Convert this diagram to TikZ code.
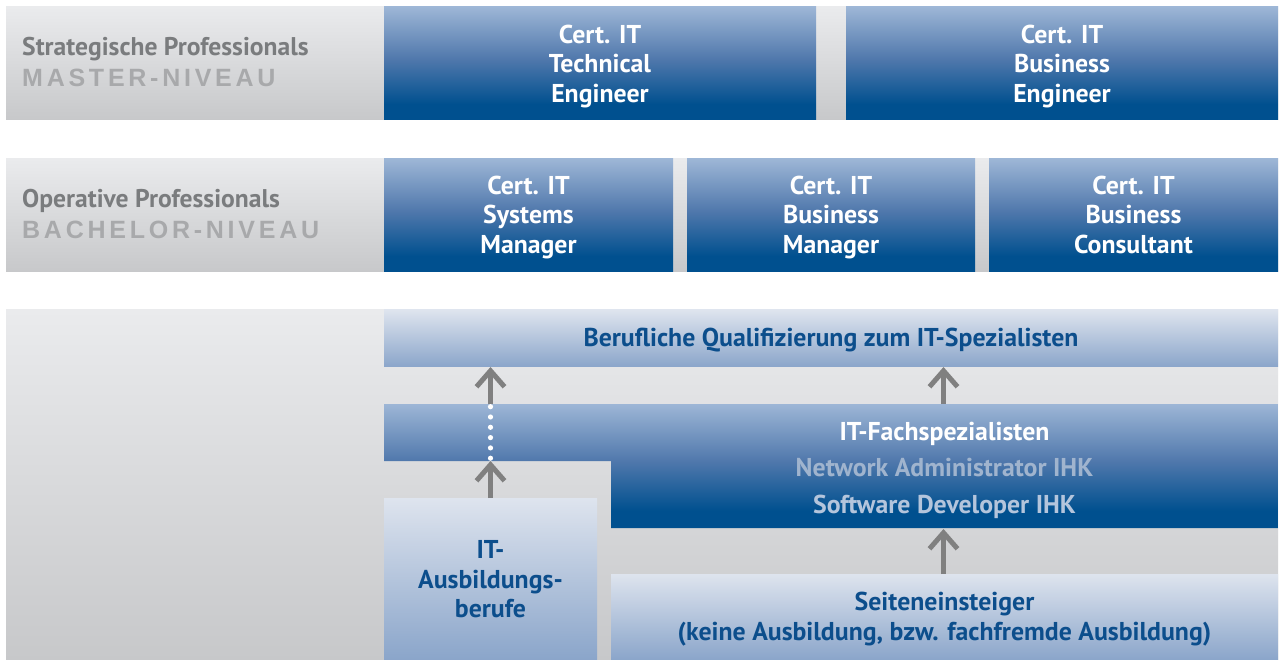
\documentclass[tikz,border=0pt]{standalone}
\usepackage{fontspec}
\setmainfont{PT Sans}
\newfontfamily\lvlfont[LetterSpace=15]{Liberation Sans}
\usetikzlibrary{arrows.meta}
\definecolor{dbT}{RGB}{157,182,214}
\definecolor{dbM}{RGB}{80,120,172}
\definecolor{dbB}{RGB}{0,80,143}
\definecolor{lbT}{RGB}{222,228,238}
\definecolor{lbB}{RGB}{138,165,202}
\definecolor{grT}{RGB}{234,235,237}
\definecolor{grB}{RGB}{199,200,202}
\definecolor{txtblue}{RGB}{12,78,140}
\definecolor{lblgrey}{RGB}{122,124,126}
\definecolor{lvlgrey}{RGB}{168,169,171}
\definecolor{arrgrey}{RGB}{128,128,128}
\definecolor{netcol}{RGB}{160,180,206}
\definecolor{swcol}{RGB}{180,197,220}
\pgfdeclareverticalshading{dkblue}{100bp}{color(0bp)=(dbB); color(32bp)=(dbB); color(52bp)=(dbM); color(75bp)=(dbT); color(100bp)=(dbT)}
\newcommand{\tstrut}{\rule{0pt}{25pt}}
\newcommand{\sstrut}{\rule{0pt}{23pt}}
\newcommand{\rstrut}{\rule{0pt}{23.5pt}}
\newcommand{\bstrut}{\rule[-6.5pt]{0pt}{6.5pt}}
\tikzset{
  boxfont/.style={font=\bfseries\fontsize{25.8}{29.5}\selectfont},
  band/.style={top color=grT, bottom color=grB, draw=none, anchor=north west, inner sep=0pt, outer sep=0pt},
  hibox/.style={shading=dkblue, draw=none, anchor=north west, inner sep=0pt, outer sep=0pt, text=white, align=center, boxfont},
  lobox/.style={top color=lbT, bottom color=lbB, draw=none, anchor=north west, inner sep=0pt, outer sep=0pt, text=txtblue, align=center, boxfont},
  lbl/.style={anchor=base west, inner sep=0pt, text=lblgrey, font=\bfseries\fontsize{25.6}{29}\selectfont},
  lvl/.style={anchor=base west, inner sep=0pt, text=lvlgrey, font=\lvlfont\bfseries\fontsize{25}{28}\selectfont},
  ftxt/.style={anchor=base, inner sep=0pt, boxfont},
  uparrow/.style={draw=arrgrey, line width=5pt, -{Straight Barb[length=16pt,width=28pt]}},
}
\begin{document}
\begin{tikzpicture}[x=1pt,y=-1pt]
\useasboundingbox (0,0) rectangle (1283,660);
\fill[white] (0,0) rectangle (1283,660);
% ---- row 1
\node[band, minimum width=1272, minimum height=113] (band1) at (6,7) {};
\node[lbl] (lab1) at (22,56) {Strategische Professionals};
\node[lvl] (lev1) at (22,87) {MASTER-NIVEAU};
\node[hibox, minimum width=432, minimum height=113] (cte) at (384,7) {\tstrut Cert. IT\\Technical\\Engineer\bstrut};
\node[hibox, minimum width=432, minimum height=113] (cbe) at (846,7) {\tstrut Cert. IT\\Business\\Engineer\bstrut};
% ---- row 2
\node[band, minimum width=1272, minimum height=113] (band2) at (6,159) {};
\node[lbl] (lab2) at (22,208) {Operative Professionals};
\node[lvl] (lev2) at (22,239) {BACHELOR-NIVEAU};
\node[hibox, minimum width=289, minimum height=113] (csm) at (384,159) {\rstrut Cert. IT\\Systems\\Manager\bstrut};
\node[hibox, minimum width=288, minimum height=113] (cbm) at (687,159) {\rstrut Cert. IT\\Business\\Manager\bstrut};
\node[hibox, minimum width=289, minimum height=113] (cbc) at (989,159) {\rstrut Cert. IT\\Business\\Consultant\bstrut};
% ---- row 3
\node[band, minimum width=1272, minimum height=350] (band3) at (6,310) {};
\node[lobox, minimum width=894, minimum height=57] (beruf) at (384,310) {\sstrut Berufliche Qualifizierung zum IT-Spezialisten\bstrut};
\shade[shading=dkblue] (384,404) -- (1278,404) -- (1278,528) -- (611,528) -- (611,461) -- (384,461) -- cycle;
\coordinate (fachtop) at (943.5,404);
\coordinate (fachbot) at (943.5,529);
\coordinate (fachleft) at (490.5,461);
\node[ftxt, text=white] (fach1) at (944.5,440) {IT-Fachspezialisten};
\node[ftxt, text=netcol] (fach2) at (944.5,476) {Network Administrator IHK};
\node[ftxt, text=swcol] (fach3) at (944.5,513) {Software Developer IHK};
\node[lobox, minimum width=213, minimum height=162] (ausb) at (384,498) {\tstrut IT-\\Ausbildungs-\\berufe\bstrut};
\node[lobox, minimum width=667, minimum height=86] (seit) at (611,574) {\rstrut Seiteneinsteiger\\(keine Ausbildung, bzw. fachfremde Ausbildung)\bstrut};
% ---- arrows
\draw[uparrow] (ausb.north) -- (fachleft);
\foreach \yy in {406.7,417,427.3,437.6,447.9,458.2}
  \fill[white] (490.5,\yy) circle (2.6);
\draw[uparrow] (fachleft |- fachtop) -- (fachleft |- beruf.south);
\draw[uparrow] (fachtop) -- (fachtop |- beruf.south);
\draw[uparrow] (seit.north -| fachbot) -- (fachbot);
\end{tikzpicture}
\end{document}
